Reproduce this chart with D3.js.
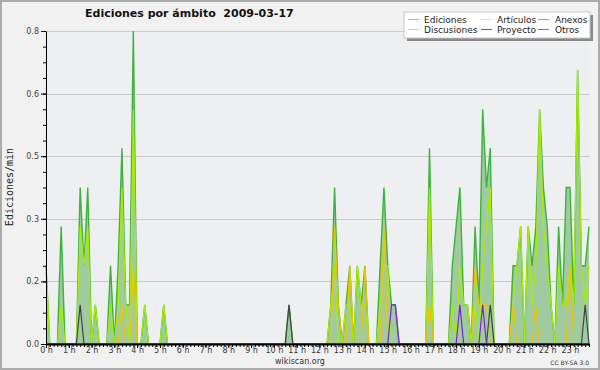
<!DOCTYPE html>
<html>
<head>
<meta charset="utf-8">
<script src="https://cdn.jsdelivr.net/npm/d3@7"></script>
<style>
  body { margin: 0; background: #f0f0f0; }
  svg { display: block; }
</style>
</head>
<body>
<div id="chart"></div>
<script>
// edits per minute, one value per 10-minute slot (00:00 .. 23:50), 6 slots per hour
const ediciones = [
  0.2,0,0,0,0.3,0, 0,0,0,0.4,0.2,0.4, 0,0.1,0,0,0,0.2, 0,0.2,0.5,0.1,0.1,0.8, 0,0,0.1,0,0,0, 0,0.1,0,0,0,0,
  0,0,0,0,0,0, 0,0,0,0,0,0, 0,0,0,0,0,0, 0,0,0,0,0,0, 0,0,0,0,0.1,0, 0,0,0,0,0,0,
  0,0,0,0.1,0.4,0.1, 0,0.1,0.2,0,0.2,0.1, 0.2,0,0,0,0.2,0.4, 0.2,0.1,0.1,0,0,0, 0,0,0,0,0,0.5, 0,0,0,0,0,0.2,
  0.3,0.4,0.1,0.1,0,0.3, 0.1,0.6,0.4,0.5,0,0, 0,0,0,0.2,0.2,0.3, 0,0.3,0.2,0.3,0.6,0.4, 0.3,0.1,0,0.3,0.1,0.4, 0.4,0.1,0.7,0.2,0.2,0.3
];
const articulos = [
  0.2,0,0,0,0.1,0, 0,0,0,0.3,0.2,0.3, 0,0.1,0,0,0,0.1, 0,0.1,0.4,0.1,0,0.6, 0,0,0.1,0,0,0, 0,0.1,0,0,0,0,
  0,0,0,0,0,0, 0,0,0,0,0,0, 0,0,0,0,0,0, 0,0,0,0,0,0, 0,0,0,0,0,0, 0,0,0,0,0,0,
  0,0,0,0.1,0.2,0, 0,0.1,0.1,0,0.2,0.1, 0.1,0,0,0,0.1,0.2, 0.2,0,0,0,0,0, 0,0,0,0,0,0.4, 0,0,0,0,0,0.1,
  0,0.2,0.1,0.1,0,0.1, 0,0.2,0.3,0.4,0,0, 0,0,0,0.1,0.2,0.3, 0,0.3,0.1,0.2,0.6,0.3, 0.2,0.1,0,0.2,0.1,0.1, 0.2,0.1,0.7,0.2,0.1,0.2
];
const anexos = new Array(144).fill(0);
const discusiones = [
  0,0,0,0,0,0, 0,0,0,0,0,0, 0,0,0,0,0,0, 0,0,0.1,0,0,0.2, 0,0,0,0,0,0, 0,0,0,0,0,0,
  0,0,0,0,0,0, 0,0,0,0,0,0, 0,0,0,0,0,0, 0,0,0,0,0,0, 0,0,0,0,0,0, 0,0,0,0,0,0,
  0,0,0,0,0.3,0.1, 0,0,0.2,0,0,0, 0.2,0,0,0,0,0.3, 0,0,0,0,0,0, 0,0,0,0,0,0.1, 0,0,0,0,0,0,
  0,0,0,0,0,0.2, 0.1,0.1,0.1,0,0,0, 0,0,0,0.1,0,0, 0,0,0,0.1,0,0, 0,0,0,0,0,0, 0.2,0,0,0,0,0
];
const proyecto = [
  0,0,0,0,0,0, 0,0,0,0.1,0,0, 0,0,0,0,0,0, 0,0,0,0,0,0, 0,0,0,0,0,0, 0,0,0,0,0,0,
  0,0,0,0,0,0, 0,0,0,0,0,0, 0,0,0,0,0,0, 0,0,0,0,0,0, 0,0,0,0,0.1,0, 0,0,0,0,0,0,
  0,0,0,0,0,0, 0,0,0,0,0,0, 0,0,0,0,0,0, 0,0,0,0,0,0, 0,0,0,0,0,0, 0,0,0,0,0,0,
  0,0,0,0,0,0, 0,0,0,0.1,0,0, 0,0,0,0,0,0, 0,0,0,0,0,0, 0,0,0,0,0,0, 0,0,0,0,0.1,0
];
const otros = [
  0,0,0,0,0,0, 0,0,0,0,0,0, 0,0,0,0,0,0, 0,0,0,0,0,0, 0,0,0,0,0,0, 0,0,0,0,0,0,
  0,0,0,0,0,0, 0,0,0,0,0,0, 0,0,0,0,0,0, 0,0,0,0,0,0, 0,0,0,0,0,0, 0,0,0,0,0,0,
  0,0,0,0,0,0, 0,0,0,0,0,0, 0,0,0,0,0,0, 0,0.1,0.1,0,0,0, 0,0,0,0,0,0, 0,0,0,0,0,0,
  0,0.1,0,0,0,0, 0,0.1,0,0,0,0, 0,0,0,0,0,0, 0,0,0,0,0,0, 0,0,0,0,0,0, 0,0,0,0,0,0
];

const seriesNames = ["Ediciones", "Artículos", "Anexos", "Discusiones", "Proyecto", "Otros"];
const seriesData = [ediciones, articulos, anexos, discusiones, proyecto, otros];
const seriesColors = ["#3cb43c", "#a8ee00", "#f07c48", "#f2c400", "#444444", "#7a22e0"];
const legendColors = ["#8fd08f", "#d2f07a", "#f08858", "#f2d060", "#666666", "#9458f0"];

const yTicks = [0, 0.16, 0.32, 0.48, 0.64, 0.8];
const hourLabels = d3.range(24).map(h => h + " h");

const W = 600, H = 370;
const plot = { left: 46, right: 589, top: 31, bottom: 344 };

const svg = d3.select("#chart").append("svg")
    .attr("width", W).attr("height", H);

// outer background + border
svg.append("rect")
    .attr("x", 1).attr("y", 1).attr("width", W - 2).attr("height", H - 2)
    .attr("fill", "#f1f1f1").attr("stroke", "#ababab").attr("stroke-width", 2);

// plot background
svg.append("rect")
    .attr("x", plot.left).attr("y", plot.top)
    .attr("width", plot.right - plot.left).attr("height", plot.bottom - plot.top)
    .attr("fill", "#edeff1");

const x = d3.scaleLinear().domain([0, 143]).range([plot.left, plot.right]);
const y = d3.scaleLinear().domain([0, 0.8]).range([plot.bottom, plot.top]);

// grid lines
svg.append("g").selectAll("line")
    .data(yTicks.slice(1))
    .enter().append("line")
    .attr("x1", plot.left).attr("x2", plot.right + 1)
    .attr("y1", d => Math.round(y(d)) + 0.5).attr("y2", d => Math.round(y(d)) + 0.5)
    .attr("stroke", "#cacaca").attr("stroke-width", 1);

// filled area under the total
const area = d3.area()
    .x((d, i) => x(i))
    .y0(y(0))
    .y1(d => y(d));

svg.append("path")
    .datum(ediciones)
    .attr("d", area)
    .attr("fill", "#a0caa0");

// one line per series, total first
const line = d3.line()
    .x((d, i) => x(i))
    .y(d => y(d));

svg.append("g").selectAll("path")
    .data(seriesData)
    .enter().append("path")
    .attr("d", line)
    .attr("fill", "none")
    .attr("stroke", (d, i) => seriesColors[i])
    .attr("stroke-width", (d, i) => i === 0 ? 1.4 : 1.2)
    .attr("stroke-linejoin", "miter");

// y axis
const yAxis = svg.append("g")
    .attr("transform", `translate(${plot.left},0)`)
    .call(d3.axisLeft(y).tickValues(yTicks).tickFormat(d3.format(".1f")).tickSize(5).tickSizeOuter(0));
yAxis.select(".domain").attr("stroke", "#000");
yAxis.selectAll("text")
    .attr("font-family", "DejaVu Sans").attr("font-size", 8).attr("fill", "#444").attr("dx", 1);

svg.append("g")
    .attr("transform", `translate(${plot.left},0)`)
    .call(d3.axisLeft(y).tickValues(d3.range(0, 21).map(k => k * 0.04)).tickFormat("").tickSize(3).tickSizeOuter(0))
    .select(".domain").remove();

// x axis: 10-minute ticks, hour labels
const xAxis = svg.append("g")
    .attr("transform", `translate(0,${plot.bottom})`)
    .call(d3.axisBottom(x).tickValues(d3.range(0, 144)).tickFormat("").tickSize(3).tickSizeOuter(0));
xAxis.select(".domain").attr("stroke", "#000").attr("stroke-width", 2);

svg.append("g")
    .attr("transform", `translate(0,${plot.bottom})`)
    .call(d3.axisBottom(x).tickValues(d3.range(0, 144, 6)).tickFormat((d, i) => hourLabels[i]).tickSize(4).tickSizeOuter(0))
    .call(g => g.select(".domain").remove())
    .selectAll("text")
    .attr("y", 3)
    .attr("font-family", "DejaVu Sans").attr("font-size", 8).attr("fill", "#333");

// title
svg.append("text")
    .attr("x", 85).attr("y", 17)
    .style("white-space", "pre")
    .attr("font-family", "DejaVu Sans").attr("font-weight", "bold").attr("font-size", 11)
    .attr("fill", "#111")
    .text("Ediciones por ámbito  2009-03-17");

// y label
svg.append("text")
    .attr("transform", "translate(13,187) rotate(-90)")
    .attr("text-anchor", "middle")
    .attr("font-family", "DejaVu Sans Mono").attr("font-size", 10).attr("fill", "#222")
    .text("Ediciones/min");

// footer
svg.append("text")
    .attr("x", 300).attr("y", 364).attr("text-anchor", "middle")
    .attr("font-family", "DejaVu Sans").attr("font-size", 8).attr("fill", "#333")
    .text("wikiscan.org");
svg.append("text")
    .attr("x", 589).attr("y", 365).attr("text-anchor", "end")
    .attr("font-family", "DejaVu Sans").attr("font-size", 6).attr("fill", "#333")
    .text("CC BY-SA 3.0");

// legend
const lg = svg.append("g");
lg.append("rect").attr("x", 407).attr("y", 15).attr("width", 186).attr("height", 26).attr("fill", "#8a8a8a");
lg.append("rect").attr("x", 404).attr("y", 12).attr("width", 186).attr("height", 26)
    .attr("fill", "#fff").attr("stroke", "#c8c8c8").attr("stroke-width", 1);

const colX = [408, 481, 538];
const rowY = [19, 29];
const items = lg.selectAll("g.item")
    .data(seriesNames)
    .enter().append("g")
    .attr("class", "item")
    .attr("transform", (d, i) => `translate(${colX[i % 3]},${rowY[Math.floor(i / 3)]})`);
items.append("line")
    .attr("x1", 0).attr("x2", 11).attr("y1", 0.5).attr("y2", 0.5)
    .attr("stroke", (d, i) => legendColors[i]).attr("stroke-width", 1);
items.append("text")
    .attr("x", (d, i) => i % 3 === 0 ? 16 : (i % 3 === 1 ? 16 : 17))
    .attr("y", 3.5)
    .attr("font-family", "DejaVu Sans").attr("font-size", 9).attr("fill", "#222")
    .text(d => d);
</script>
</body>
</html>
